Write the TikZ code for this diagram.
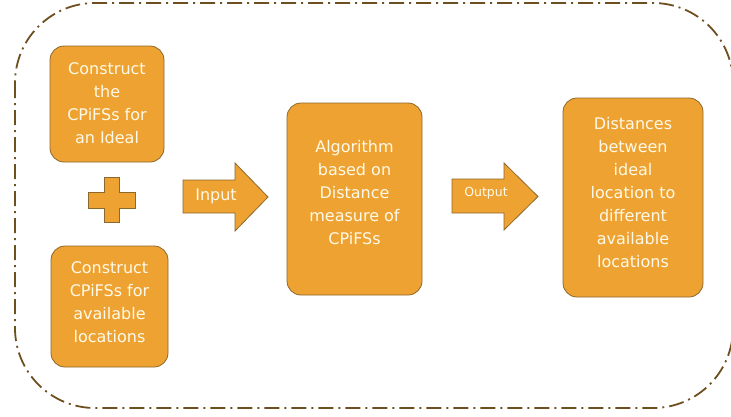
\documentclass[tikz,border=0pt]{standalone}
\usepackage{fontspec}
\setsansfont{DejaVu Sans}
\usetikzlibrary{positioning}

\definecolor{boxfill}{RGB}{238,162,50}
\definecolor{boxedge}{RGB}{140,104,44}
\definecolor{frameline}{RGB}{110,80,32}
\definecolor{boxink}{RGB}{255,250,232}

\tikzset{
  stepbox/.style={draw=boxedge,fill=boxfill,line width=0.8pt,rounded corners=14pt,inner sep=0pt},
  boxtext/.style={text=boxink,font=\sffamily\fontsize{16}{23}\selectfont,align=center,inner sep=0pt},
  blockarrow/.style={draw=boxedge,fill=boxfill,line width=0.8pt,line join=miter}
}

\begin{document}
\begin{tikzpicture}[x=1pt,y=-1pt]
      \useasboundingbox (0,0) rectangle (731,416);

      % outer frame
      \draw[frameline,line width=1.8pt,rounded corners=80pt,
        dash pattern=on 15pt off 5pt on 2pt off 5pt] (15,3) rectangle (733,408);

      % left column
      \node[stepbox,minimum width=114pt,minimum height=116pt] (ideal) at (107,104) {};
      \node[boxtext] (idealtext) at ([yshift=1pt]ideal.center) {Construct\\the\\CPiFSs for\\an Ideal};

      \filldraw[blockarrow] (104,177) -- (119,177) -- (119,192) -- (135,192) -- (135,208)
        -- (119,208) -- (119,222) -- (104,222) -- (104,208) -- (88,208) -- (88,192)
        -- (104,192) -- cycle;

      \node[stepbox,minimum width=117pt,minimum height=121pt] (avail) at (109.5,306.5) {};
      \node[boxtext] (availtext) at ([yshift=4pt]avail.center) {Construct\\CPiFSs for\\available\\locations};

      % input arrow
      \filldraw[blockarrow] (183,180) -- (235,180) -- (235,163) -- (268,197) -- (235,231)
        -- (235,213) -- (183,213) -- cycle;
      \node[boxtext] (inputtext) at (216,196) {Input};

      % algorithm
      \node[stepbox,minimum width=135pt,minimum height=192pt] (algo) at (354.5,199) {};
      \node[boxtext] (algotext) at ([yshift=6pt]algo.center) {Algorithm\\based on\\Distance\\measure of\\CPiFSs};

      % output arrow
      \filldraw[blockarrow] (452,179) -- (504,179) -- (504,163) -- (538,196.5) -- (504,230)
        -- (504,213) -- (452,213) -- cycle;
      \node[boxtext,font=\sffamily\fontsize{12.5}{14}\selectfont] (outputtext) at (486,193) {Output};

      % result
      \node[stepbox,minimum width=140pt,minimum height=199pt] (dist) at (633,197.5) {};
      \node[boxtext] (disttext) at ([yshift=5pt]dist.center) {Distances\\between\\ideal\\location to\\different\\available\\locations};
    \end{tikzpicture}
\end{document}
